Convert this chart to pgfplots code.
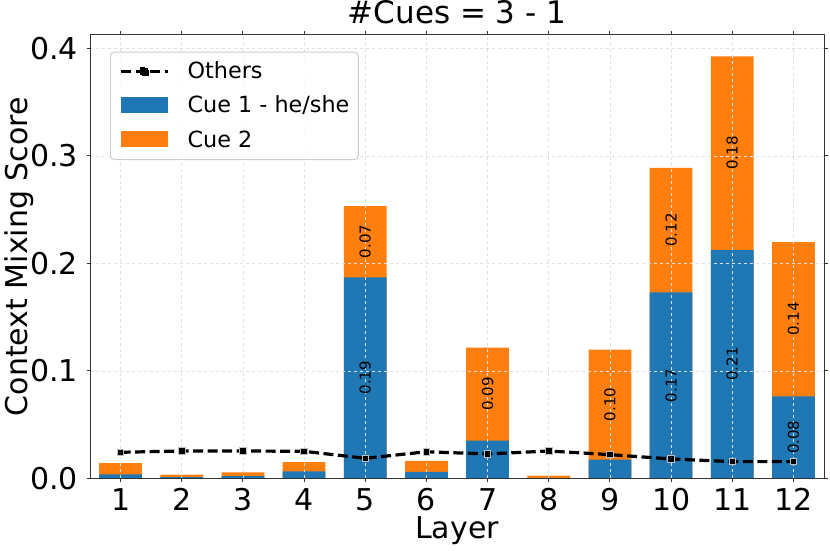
\documentclass[border=0pt]{standalone}
\usepackage{pgfplots}
\pgfplotsset{compat=1.18}
\usepackage{pgfplotstable}
\usepackage{fontspec}
\setmainfont{DejaVu Sans}
\definecolor{mblue}{HTML}{1F77B4}
\definecolor{morange}{HTML}{FF7F0E}

\pgfplotstableread{
layer cueone total others
1  0.0037 0.0140 0.0242
2  0.0012 0.0034 0.0254
3  0.0020 0.0056 0.0254
4  0.0065 0.0150 0.0251
5  0.1870 0.2533 0.0186
6  0.0060 0.0163 0.0247
7  0.0350 0.1215 0.0226
8  0.0003 0.0024 0.0254
9  0.0174 0.1198 0.0220
10 0.1730 0.2887 0.0180
11 0.2124 0.3926 0.0155
12 0.0763 0.2198 0.0155
}\datatable

\pgfplotstableread{
x y label
5  0.0935 0.19
5  0.2202 0.07
7  0.0783 0.09
9  0.0686 0.10
10 0.0865 0.17
10 0.2309 0.12
11 0.1062 0.21
11 0.3025 0.18
12 0.0382 0.08
12 0.1481 0.14
}\labeltable

\begin{document}
\begin{tikzpicture}
\begin{axis}[
  at={(90pt,72.7pt)}, anchor=south west,
  scale only axis, width=734pt, height=443.3pt,
  xmin=0.5, xmax=12.5, ymin=0, ymax=0.4124,
  xtick={1,2,...,12}, ytick={0,0.1,0.2,0.3,0.4},
  /pgf/number format/assume math mode=true,
  yticklabel style={/pgf/number format/.cd, fixed, fixed zerofill, precision=1},
  tick label style={font=\fontsize{30}{36}\selectfont, inner sep=0pt},
  xticklabel shift=6.7pt, yticklabel shift=8.3pt,
  tick align=outside, major tick length=3.5pt,
  tick style={black!80, line width=0.9pt},
  axis line style={black!80, line width=1pt},
  grid=major,
  grid style={dashed, black!12, line width=0.6pt},
  axis on top,
  title={\#Cues = 3 - 1},
  title style={font=\fontsize{31}{37}\selectfont, at={(axis description cs:0.5,1.0113)}, anchor=base, inner sep=0pt},
  xlabel={Layer},
  xlabel style={font=\fontsize{30}{36}\selectfont, at={(axis description cs:0.5,-0.1353)}, anchor=base, inner sep=0pt},
  ylabel={Context Mixing Score},
  ylabel style={font=\fontsize{30}{36}\selectfont, at={(axis description cs:-0.0845,0.5)}, anchor=base, rotate=0, inner sep=0pt},
  reverse legend,
  legend cell align=left,
  legend style={at={(axis description cs:0.02725,0.9623)}, anchor=north west,
    font=\fontsize{22.3}{27}\selectfont,
    draw=black!20, line width=0.9pt, rounded corners=4pt, fill=white, fill opacity=0.8, text opacity=1,
    inner xsep=9pt, inner ysep=9.5pt, row sep=14.2pt, column sep=18pt,
    nodes={inner sep=0pt, text height=17pt, text depth=3pt}},
]
\addplot[ybar, bar width=0.7, bar shift=0pt, fill=morange, draw=none,
  legend image code/.code={\fill[morange, fill opacity=1, sharp corners] (0pt,-7.4pt) rectangle (47pt,8.6pt);}]
  table[x=layer, y=total] {\datatable};
\addlegendentry{Cue 2}
\addplot[ybar, bar width=0.7, bar shift=0pt, fill=mblue, draw=none,
  legend image code/.code={\fill[mblue, fill opacity=1, sharp corners] (0pt,-7.4pt) rectangle (47pt,8.6pt);}]
  table[x=layer, y=cueone] {\datatable};
\addlegendentry{Cue 1 - he/she}
\addplot[black, line width=3.2pt, dash pattern=on 10pt off 4.5pt,
  mark=square*, mark size=3.2pt,
  mark options={solid, fill=black, draw=white!75!black, line width=0.8pt},
  legend image code/.code={\draw[black, sharp corners, draw opacity=1, line width=3.2pt, dash pattern=on 10pt off 4.5pt] (0pt,0pt) -- (47pt,0pt);
     \fill[black, sharp corners, fill opacity=1] (20.3pt,-3.2pt) rectangle (26.7pt,3.2pt);}]
  table[x=layer, y=others] {\datatable};
\addlegendentry{Others}
\addplot[draw=none, mark=none, forget plot, nodes near coords, point meta=explicit symbolic,
  nodes near coords style={rotate=90, anchor=center, text=black, inner sep=0pt, font=\fontsize{15}{18}\selectfont}]
  table[x=x, y=y, meta=label] {\labeltable};
\end{axis}
\pgfresetboundingbox
\path[use as bounding box] (0,0) rectangle (830pt,551pt);
\end{tikzpicture}
\end{document}
